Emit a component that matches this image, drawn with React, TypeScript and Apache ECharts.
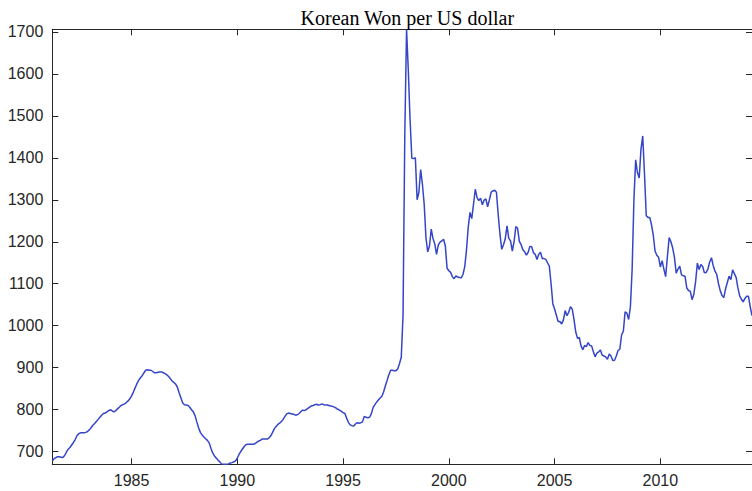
import React, { useEffect, useRef } from "react";
import * as echarts from "echarts";

// Monthly average KRW per USD, April 1981 .. May 2014
const startYear = 1981;
const startMonth = 4;

// Apr 1981 - Dec 1989
const won1980s = [
  678, 683, 686, 688, 688, 687, 686, 691, 699,
  706, 710, 716, 722, 729, 738, 743, 745, 745, 745, 746, 748,
  752, 757, 763, 767, 772, 777, 782, 787, 791, 792, 795, 798,
  800, 797, 795, 798, 802, 806, 810, 812, 814, 817, 821, 826,
  833, 842, 852, 862, 870, 876, 881, 888, 894, 895, 894, 894,
  891, 888, 888, 889, 890, 890, 888, 886, 883, 879, 874, 868,
  865, 861, 853, 840, 828, 816, 812, 811, 810, 806, 800, 795,
  786, 771, 757, 746, 740, 735, 731, 727, 721, 708, 697, 690,
  685, 680, 676, 671, 670, 670, 670, 671, 673, 674, 676, 678,
];

// Jan 1990 - Dec 1999
const won1990s = [
  685, 694, 701, 707, 713, 717, 718, 718, 718, 718, 719, 722,
  725, 727, 730, 730, 730, 730, 733, 738, 746, 755, 760, 765,
  768, 772, 777, 784, 790, 792, 791, 790, 789, 787, 788, 791,
  795, 799, 798, 800, 803, 806, 809, 810, 812, 813, 811, 812,
  814, 812, 811, 811, 810, 809, 808, 806, 804, 801, 799, 796,
  793, 791, 780, 770, 764, 762, 761, 766, 769, 768, 769, 771,
  784, 782, 781, 782, 790, 805, 812, 818, 823, 828, 832, 843,
  857, 870, 884, 894, 894, 893, 893, 897, 910, 925, 1025, 1455,
  1706, 1608, 1490, 1399, 1398, 1400, 1300, 1318, 1372, 1337, 1290, 1210,
  1176, 1190, 1230, 1208, 1195, 1170, 1192, 1199, 1202, 1206, 1190, 1137,
];

// Jan 2000 - Dec 2009
const won2000s = [
  1131, 1127, 1117, 1112, 1119, 1116, 1115, 1114, 1122, 1140, 1180, 1235,
  1270, 1255, 1290, 1325, 1305, 1298, 1304, 1288, 1299, 1302, 1283, 1300,
  1318, 1321, 1323, 1318, 1265, 1218, 1182, 1193, 1207, 1238, 1208, 1202,
  1178, 1200, 1236, 1232, 1201, 1193, 1181, 1176, 1168, 1175, 1189, 1188,
  1174, 1170, 1158, 1170, 1175, 1160, 1160, 1158, 1150, 1142, 1100, 1052,
  1040, 1025, 1010, 1010, 1004, 1014, 1036, 1024, 1032, 1045, 1040, 1015,
  985, 970, 972, 952, 943, 953, 950, 960, 953, 952, 938, 926,
  935, 938, 942, 930, 928, 926, 920, 933, 928, 917, 918, 928,
  941, 944, 978, 987, 1033, 1030, 1015, 1045, 1135, 1300, 1395, 1365,
  1352, 1420, 1452, 1362, 1262, 1258, 1258, 1240, 1215, 1178, 1168, 1163,
];

// Jan 2010 - May 2014
const won2010s = [
  1140, 1155, 1135, 1117, 1165, 1210, 1200, 1185, 1163, 1125, 1135, 1142,
  1121, 1119, 1118, 1090, 1084, 1082, 1062, 1075, 1105, 1149, 1134, 1146,
  1141, 1126, 1127, 1135, 1152, 1162, 1143, 1130, 1122, 1100, 1083, 1072,
  1067, 1088, 1103, 1118, 1110, 1133, 1124, 1115, 1090, 1071, 1063, 1057,
  1065, 1070, 1070, 1045, 1024,
];

const xTicks = [1985, 1990, 1995, 2000, 2005, 2010];
const yTicks = [700, 800, 900, 1000, 1100, 1200, 1300, 1400, 1500, 1600, 1700];
const titleText = "Korean Won per US dollar";

export default function App() {
  const ref = useRef<HTMLDivElement>(null);

  useEffect(() => {
    if (!ref.current) return;
    const chart = echarts.init(ref.current, null, { renderer: "svg" });
    const values = [...won1980s, ...won1990s, ...won2000s, ...won2010s];
    const data = values.map((v, i) => [startYear + (startMonth - 1 + i) / 12, v]);
    const xMin = data[0][0];
    const xMax = data[data.length - 1][0];
    const axisColor = "#262626";
    const labelStyle = {
      fontFamily: "Liberation Sans, Arial, sans-serif",
      fontSize: 16,
      color: axisColor,
    };
    const fmt = (v: number) => String(v);

    chart.setOption({
      animation: false,
      backgroundColor: "#ffffff",
      title: {
        text: titleText,
        left: 402.3,
        top: 3,
        textAlign: "center",
        textStyle: {
          fontFamily: "Liberation Serif, serif",
          fontSize: 20,
          fontWeight: "normal",
          color: "#000000",
        },
      },
      grid: { left: 52.3, top: 29.3, width: 700.05, height: 435 },
      xAxis: [
        {
          type: "value",
          min: xMin,
          max: xMax,
          position: "bottom",
          axisLine: { show: true, onZero: false, lineStyle: { color: axisColor, width: 1 } },
          axisTick: { show: true, inside: true, length: 6, customValues: xTicks, lineStyle: { color: axisColor } },
          axisLabel: { ...labelStyle, customValues: xTicks, margin: 8, formatter: fmt },
          splitLine: { show: false },
        },
        {
          type: "value",
          min: xMin,
          max: xMax,
          position: "top",
          axisLine: { show: true, onZero: false, lineStyle: { color: axisColor, width: 1 } },
          axisTick: { show: true, inside: true, length: 6, customValues: xTicks, lineStyle: { color: axisColor } },
          axisLabel: { show: false },
          splitLine: { show: false },
        },
      ],
      yAxis: [
        {
          type: "value",
          min: 670,
          max: 1706,
          position: "left",
          axisLine: { show: true, onZero: false, lineStyle: { color: axisColor, width: 1 } },
          axisTick: { show: true, inside: true, length: 6, customValues: yTicks, lineStyle: { color: axisColor } },
          axisLabel: { ...labelStyle, customValues: yTicks, margin: 9, formatter: fmt },
          splitLine: { show: false },
        },
        {
          type: "value",
          min: 670,
          max: 1706,
          position: "right",
          axisLine: { show: false },
          axisTick: { show: true, inside: true, length: 6, customValues: yTicks, lineStyle: { color: axisColor } },
          axisLabel: { show: false },
          splitLine: { show: false },
        },
      ],
      series: [
        {
          type: "line",
          data,
          xAxisIndex: 0,
          yAxisIndex: 0,
          showSymbol: false,
          symbol: "none",
          lineStyle: { color: "#3545c8", width: 1.5 },
        },
      ],
    });
    return () => chart.dispose();
  }, []);

  return (
    <div
      ref={ref}
      style={{ position: "fixed", left: 0, top: 0, width: 752, height: 491, background: "#fff" }}
    />
  );
}
